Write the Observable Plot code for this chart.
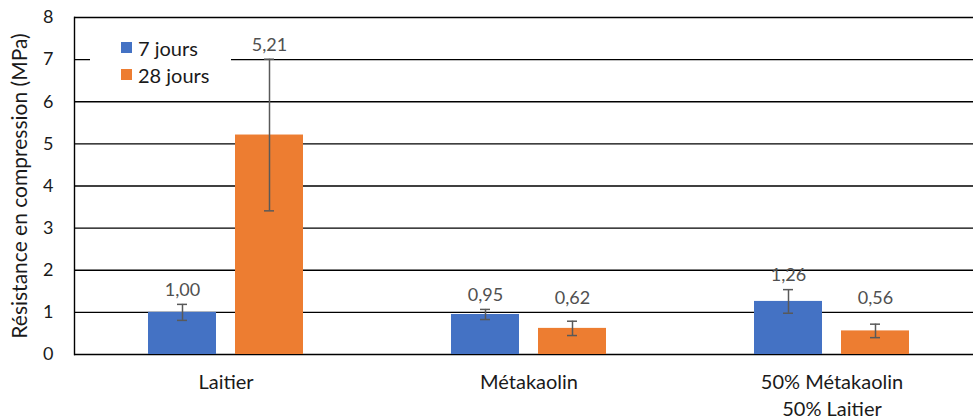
<!DOCTYPE html>
<html>
<head>
<meta charset="utf-8">
<script src="https://cdn.jsdelivr.net/npm/d3@7"></script>
<script src="https://cdn.jsdelivr.net/npm/@observablehq/plot@0.6"></script>
<style>
  html, body { margin: 0; padding: 0; background: white; overflow: hidden; }
  #wrap { position: relative; width: 973px; height: 419px; overflow: hidden; }
  #legend { position: absolute; left: 90px; top: 32px; width: 141px; background: white;
            font-family: Lato, sans-serif; font-size: 20px; color: #1a1a1a; padding: 2px 0; }
  #legend .row { display: flex; align-items: center; height: 27px; padding-left: 31px; }
  #legend .sw { width: 11px; height: 11px; margin-right: 6px; }
</style>
</head>
<body>
<div id="wrap"><div id="legend"></div></div>
<script>
const categories = ["Laitier", "Métakaolin", "50% Métakaolin\n50% Laitier"];
const series = ["7 jours", "28 jours"];
const values7 = [1.00, 0.95, 1.26];
const values28 = [5.21, 0.62, 0.56];
const err7 = [0.19, 0.12, 0.28];
const err28 = [1.80, 0.17, 0.16];
const yTicks = [0, 1, 2, 3, 4, 5, 6, 7, 8];
const colors = ["#4472C4", "#ED7D31"];
const yLabel = "Résistance en compression (MPa)";

const rows = [];
categories.forEach((c, i) => {
  rows.push({category: c, series: series[0], value: values7[i], err: err7[i]});
  rows.push({category: c, series: series[1], value: values28[i], err: err28[i]});
});
const fmt = v => v.toFixed(2).replace(".", ",");

const chart = Plot.plot({
  width: 973, height: 419,
  marginLeft: 74, marginRight: -10, marginTop: 17, marginBottom: 65,
  style: {fontFamily: "Lato, sans-serif", background: "white", overflow: "hidden"},
  fx: {domain: categories, padding: 0, label: null},
  x: {domain: series, axis: null, paddingInner: 0.218, paddingOuter: 0.85},
  y: {domain: [0, 8]},
  color: {domain: series, range: colors},
  marks: [
    Plot.ruleY(yTicks, {stroke: "#000", strokeWidth: 1.4}),
    Plot.barY(rows, {fx: "category", x: "series", y: "value", fill: "series"}),
    Plot.ruleX(rows, {fx: "category", x: "series", y1: d => d.value - d.err, y2: d => d.value + d.err, stroke: "#595959", strokeWidth: 1.5}),
    Plot.tickY(rows, {fx: "category", x: "series", y: d => d.value - d.err, insetLeft: 29, insetRight: 29, stroke: "#595959", strokeWidth: 1.5}),
    Plot.tickY(rows, {fx: "category", x: "series", y: d => d.value + d.err, insetLeft: 29, insetRight: 29, stroke: "#595959", strokeWidth: 1.5}),
    Plot.text(rows, {fx: "category", x: "series", y: d => Math.max(d.value + d.err, 1), dy: -14, text: d => fmt(d.value), fill: "#505050", fontSize: 18}),
    Plot.frame({anchor: "left", facetAnchor: "left", stroke: "#000", strokeWidth: 1.4}),
    Plot.axisY({ticks: yTicks, tickSize: 0, tickPadding: 21, fontSize: 18, fill: "#1a1a1a", label: null}),
    Plot.axisY({ticks: [], tickSize: 0, fontSize: 21, fill: "#1a1a1a",
                label: yLabel, labelAnchor: "center", labelArrow: "none", labelOffset: 62}),
    Plot.axisFx({anchor: "bottom", tickSize: 0, tickPadding: 15, fontSize: 20, fill: "#1a1a1a", label: null, lineHeight: 1.35})
  ]
});
document.getElementById("wrap").prepend(chart);

const legend = document.getElementById("legend");
series.forEach((s, i) => {
  const row = document.createElement("div");
  row.className = "row";
  row.innerHTML = `<span class="sw" style="background:${colors[i]}"></span><span>${s}</span>`;
  legend.appendChild(row);
});
</script>
</body>
</html>
